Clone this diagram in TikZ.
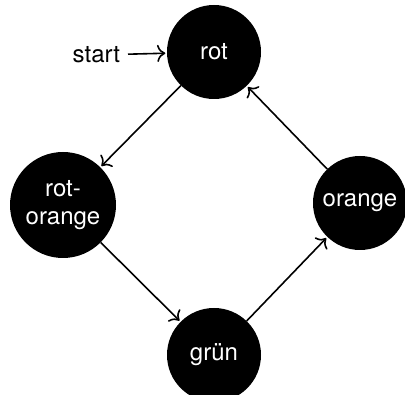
\documentclass[tikz,border=0pt]{standalone}
\usepackage{fontspec}
\setmainfont{TeX Gyre Heros}
\usetikzlibrary{arrows.meta}
\begin{document}
\begin{tikzpicture}[x=1pt,y=-1pt,
  state/.style={circle, fill=black, text=white, inner sep=0pt,
    minimum size=94pt, align=center, font=\fontsize{24}{28}\selectfont},
  label text/.style={font=\fontsize{24}{28}\selectfont, inner sep=0pt, outer xsep=8pt},
  link/.style={-{To[scale=1.6]}, line width=1.6pt, shorten >=1.5pt}]
\useasboundingbox (0,0) rectangle (405,395);
% states of the traffic light
\node[state] (rot) at (214,52) {rot};
\node[state, minimum size=106pt] (rotorange) at (63,205) {rot-\\orange};
\node[state] (gruen) at (214,355) {grün};
\node[state] (orange) at (360,203) {orange};
% initial marker
\node[label text, anchor=east] (start) at (128,55) {start};
% transitions
\draw[link] (start) -- (rot);
\draw[link] (rot) -- (rotorange);
\draw[link] (rotorange) -- (gruen);
\draw[link] (gruen) -- (orange);
\draw[link] (orange) -- (rot);
\end{tikzpicture}
\end{document}
